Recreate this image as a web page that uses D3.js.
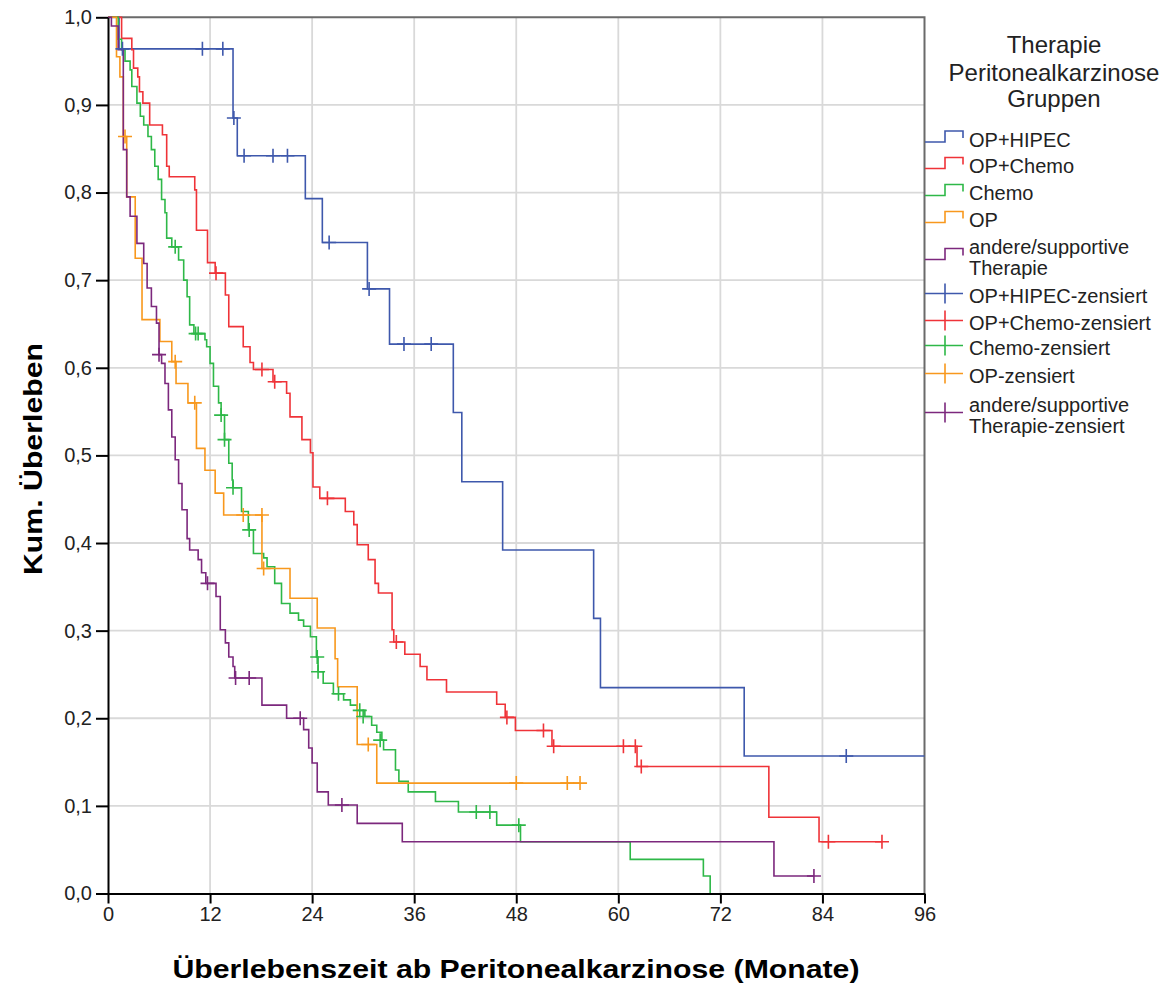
<!DOCTYPE html>
<html>
<head>
<meta charset="utf-8">
<script src="https://cdn.jsdelivr.net/npm/d3@7"></script>
<style>
  body { margin: 0; background: #fff; }
  svg { display: block; }
</style>
</head>
<body>
<div id="chart"></div>
<script>
// Kaplan-Meier values: [month, survival after the drop]
const groupNames = ["OP+HIPEC", "OP+Chemo", "Chemo", "OP", "andere/supportive Therapie"];
const groupColors = ["#3e58ac", "#ef3338", "#2eb848", "#f8981d", "#7c287d"];

const hipecSteps = [[1.3,0.964],[14.7,0.885],[15.2,0.842],[23.2,0.793],[25.2,0.743],[30.5,0.690],[33.1,0.627],
  [40.6,0.549],[41.6,0.470],[46.4,0.392],[57.1,0.314],[57.9,0.235],[74.8,0.157]];
const hipecCensored = [[1.7,0.964],[11.1,0.964],[13.5,0.964],[14.8,0.885],[16.0,0.842],[19.4,0.842],[21.1,0.842],
  [26.0,0.743],[30.7,0.690],[34.8,0.627],[38.0,0.627],[86.8,0.157]];
const hipecEnd = 96;

const opChemoSteps = [[1.6,0.976],[2.8,0.963],[3.0,0.942],[3.5,0.932],[3.7,0.915],[4.1,0.902],[4.9,0.877],[6.4,0.866],
  [6.9,0.830],[7.2,0.818],[10.2,0.803],[10.4,0.757],[11.7,0.720],[12.6,0.708],[13.8,0.683],[14.2,0.647],[15.9,0.624],
  [16.7,0.606],[17.1,0.598],[19.4,0.584],[21.0,0.571],[21.4,0.544],[22.8,0.518],[23.8,0.503],[24.1,0.464],[24.9,0.451],
  [27.9,0.436],[28.9,0.421],[29.3,0.398],[30.6,0.381],[31.4,0.354],[31.8,0.343],[33.4,0.301],[33.6,0.287],[34.9,0.273],
  [36.7,0.259],[37.5,0.244],[39.8,0.230],[45.7,0.216],[46.7,0.201],[47.9,0.186],[52.2,0.168],[62.2,0.145],[77.7,0.087],
  [83.6,0.059]];
const opChemoCensored = [[12.7,0.708],[18.1,0.598],[19.6,0.584],[25.8,0.451],[33.9,0.287],[46.9,0.201],[51.2,0.186],
  [52.4,0.168],[60.6,0.168],[62.0,0.168],[62.7,0.145],[84.7,0.059],[91.0,0.059]];
const opChemoEnd = 91.0;

const chemoSteps = [[1.2,0.975],[1.6,0.963],[2.0,0.950],[2.6,0.940],[2.8,0.921],[3.4,0.902],[3.8,0.887],[4.2,0.877],
  [4.7,0.864],[5.1,0.849],[5.5,0.830],[5.9,0.815],[6.3,0.792],[6.7,0.777],[6.9,0.748],[7.5,0.738],[8.3,0.723],[8.9,0.700],
  [9.3,0.681],[9.6,0.649],[10.1,0.639],[11.4,0.632],[11.6,0.624],[12.0,0.605],[12.4,0.579],[13.0,0.560],[13.3,0.546],
  [13.7,0.518],[14.2,0.491],[14.6,0.472],[14.7,0.463],[15.7,0.436],[16.5,0.415],[17.1,0.388],[18.3,0.383],[18.7,0.373],
  [19.6,0.354],[20.4,0.331],[21.4,0.320],[22.4,0.312],[23.0,0.305],[23.8,0.293],[24.5,0.270],[24.7,0.253],[25.3,0.240],
  [26.5,0.228],[27.7,0.221],[28.5,0.215],[29.3,0.209],[30.2,0.202],[31.0,0.192],[31.6,0.184],[32.2,0.175],[32.4,0.164],
  [33.8,0.141],[34.2,0.128],[35.3,0.116],[38.5,0.105],[41.2,0.093],[45.7,0.078],[48.5,0.059],[61.4,0.039],[70.0,0.020],
  [70.8,0.0]];
const chemoCensored = [[7.9,0.738],[10.3,0.639],[10.6,0.639],[13.3,0.546],[13.7,0.518],[14.7,0.463],[16.6,0.415],
  [24.6,0.270],[24.7,0.253],[27.1,0.228],[29.6,0.209],[30.0,0.202],[32.0,0.175],[43.3,0.093],[44.9,0.093],[48.3,0.078]];
const chemoEnd = 70.8;

const opSteps = [[1.0,0.955],[1.4,0.932],[1.8,0.864],[2.2,0.795],[3.2,0.725],[4.0,0.655],[6.1,0.630],[7.5,0.607],
  [8.0,0.582],[9.4,0.560],[10.4,0.508],[11.4,0.483],[12.6,0.457],[13.6,0.432],[18.1,0.371],[21.4,0.337],[24.6,0.303],
  [26.7,0.268],[27.0,0.236],[29.3,0.170],[31.6,0.126]];
const opCensored = [[2.0,0.864],[7.9,0.607],[10.2,0.560],[15.9,0.432],[18.1,0.432],[18.3,0.371],[30.6,0.170],
  [48.0,0.126],[54.0,0.126],[55.5,0.126]];
const opEnd = 55.5;

const supportiveSteps = [[0.4,0.990],[1.2,0.963],[1.8,0.849],[2.2,0.795],[2.6,0.773],[3.4,0.742],[4.2,0.719],[4.6,0.691],
  [5.1,0.670],[5.7,0.651],[6.0,0.615],[6.3,0.605],[6.7,0.582],[7.1,0.552],[7.5,0.521],[7.9,0.495],[8.3,0.468],[8.7,0.438],
  [9.3,0.405],[9.6,0.392],[10.6,0.381],[11.0,0.366],[11.5,0.354],[12.7,0.339],[13.2,0.301],[13.8,0.286],[14.2,0.270],
  [14.7,0.259],[14.9,0.246],[18.1,0.215],[21.0,0.200],[23.0,0.187],[23.6,0.166],[24.0,0.149],[24.6,0.116],[25.9,0.101],
  [29.3,0.080],[34.6,0.059],[78.3,0.020]];
const supportiveCensored = [[6.0,0.615],[11.7,0.354],[15.0,0.246],[16.6,0.246],[22.6,0.200],[27.5,0.101],[83.0,0.020]];
const supportiveEnd = 83.0;

const xTicks = [0, 12, 24, 36, 48, 60, 72, 84, 96];
const yTicks = [0, 0.1, 0.2, 0.3, 0.4, 0.5, 0.6, 0.7, 0.8, 0.9, 1.0];
const xTitle = "Überlebenszeit ab Peritonealkarzinose (Monate)";
const yTitle = "Kum. Überleben";
const legendTitle = ["Therapie", "Peritonealkarzinose", "Gruppen"];
const legendLabels = [["OP+HIPEC"], ["OP+Chemo"], ["Chemo"], ["OP"], ["andere/supportive", "Therapie"],
  ["OP+HIPEC-zensiert"], ["OP+Chemo-zensiert"], ["Chemo-zensiert"], ["OP-zensiert"], ["andere/supportive", "Therapie-zensiert"]];

const width = 1175, height = 985;
const font = "'Liberation Sans', Arial, sans-serif";

const groups = [
  { steps: hipecSteps, censored: hipecCensored, end: hipecEnd },
  { steps: opChemoSteps, censored: opChemoCensored, end: opChemoEnd },
  { steps: chemoSteps, censored: chemoCensored, end: chemoEnd },
  { steps: opSteps, censored: opCensored, end: opEnd },
  { steps: supportiveSteps, censored: supportiveCensored, end: supportiveEnd }
];

let x = d3.scaleLinear().domain([0, 96]).range([108, 924.5]);
let y = d3.scaleLinear().domain([0, 1]).range([893.5, 17.3]);

let svg = d3.select("#chart").append("svg")
  .attr("width", width)
  .attr("height", height)
  .style("font-family", font);

// grid
svg.append("g").selectAll("line")
  .data(xTicks.slice(1, -1))
  .enter().append("line")
  .attr("x1", d => x(d)).attr("x2", d => x(d))
  .attr("y1", y(1)).attr("y2", y(0))
  .attr("stroke", "#d9d9d9").attr("stroke-width", 1.8);
svg.append("g").selectAll("line")
  .data(yTicks.slice(1, -1))
  .enter().append("line")
  .attr("x1", x(0)).attr("x2", x(96))
  .attr("y1", d => y(d)).attr("y2", d => y(d))
  .attr("stroke", "#d9d9d9").attr("stroke-width", 1.8);

// frame top / right
svg.append("path")
  .attr("d", `M${x(0)},${y(1)}H${x(96)}V${y(0)}`)
  .attr("fill", "none")
  .attr("stroke", "#6a6a6a")
  .attr("stroke-width", 2);

// curves
let line = d3.line()
  .x(d => x(d[0]))
  .y(d => y(d[1]))
  .curve(d3.curveStepAfter);

groups.forEach((g, i) => {
  let pts = [[0, 1]].concat(g.steps);
  pts.push([g.end, pts[pts.length - 1][1]]);
  svg.append("path")
    .datum(pts)
    .attr("d", line)
    .attr("fill", "none")
    .attr("stroke", groupColors[i])
    .attr("stroke-width", 1.6);
});

groups.forEach((g, i) => {
  svg.append("g").selectAll("path")
    .data(g.censored)
    .enter().append("path")
    .attr("d", d => {
      let cx = x(d[0]), cy = y(d[1]);
      return `M${cx - 7},${cy}H${cx + 7}M${cx},${cy - 7}V${cy + 7}`;
    })
    .attr("stroke", groupColors[i])
    .attr("stroke-width", 1.6)
    .attr("fill", "none");
});

// axes
let fmt = d => d3.format(".1f")(d).replace(".", ",");
let yAxis = svg.append("g")
  .attr("transform", `translate(${x(0)},0)`)
  .call(d3.axisLeft(y).tickValues(yTicks).tickFormat(fmt).tickSize(12).tickPadding(4).tickSizeOuter(0));
let xAxis = svg.append("g")
  .attr("transform", `translate(0,${y(0)})`)
  .call(d3.axisBottom(x).tickValues(xTicks).tickSize(10).tickPadding(3).tickSizeOuter(0));

[xAxis, yAxis].forEach(a => {
  a.select(".domain").attr("stroke", "#000").attr("stroke-width", 2);
  a.selectAll(".tick line").attr("stroke", "#000").attr("stroke-width", 2);
  a.selectAll(".tick text")
    .attr("fill", "#222")
    .style("font-family", font)
    .style("font-size", "20px");
});

// axis titles
svg.append("text")
  .attr("x", 516)
  .attr("y", 978)
  .attr("text-anchor", "middle")
  .attr("textLength", 687)
  .attr("lengthAdjust", "spacingAndGlyphs")
  .style("font-size", "25px")
  .style("font-weight", "bold")
  .text(xTitle);

svg.append("text")
  .attr("transform", "translate(42,459) rotate(-90)")
  .attr("text-anchor", "middle")
  .attr("textLength", 232)
  .attr("lengthAdjust", "spacingAndGlyphs")
  .style("font-size", "25px")
  .style("font-weight", "bold")
  .text(yTitle);

// legend
svg.append("g").selectAll("text")
  .data(legendTitle)
  .enter().append("text")
  .attr("x", 1054)
  .attr("y", (d, i) => [53, 81, 107][i])
  .attr("text-anchor", "middle")
  .attr("fill", "#222")
  .style("font-size", "24px")
  .text(d => d);

const legendBase = [146.5, 173, 200, 227, 254, 303, 330, 355, 383, 412];
legendLabels.forEach((lines, i) => {
  let b = legendBase[i];
  let color = groupColors[i % 5];
  let mid = b + (lines.length - 1) * 10 - 9.5;
  lines.forEach((t, j) => {
    svg.append("text")
      .attr("x", 969)
      .attr("y", b + j * 20.5)
      .attr("fill", "#222")
      .style("font-size", "20px")
      .text(t);
  });
  if (i < 5) {
    svg.append("path")
      .attr("d", `M925,${mid + 5}H945V${mid - 6}H963V${mid + 1}`)
      .attr("fill", "none")
      .attr("stroke", color)
      .attr("stroke-width", 1.6);
  } else {
    svg.append("path")
      .attr("d", `M925,${mid}H963M945,${mid - 10}V${mid + 10}`)
      .attr("fill", "none")
      .attr("stroke", color)
      .attr("stroke-width", 1.6);
  }
});
</script>
</body>
</html>
